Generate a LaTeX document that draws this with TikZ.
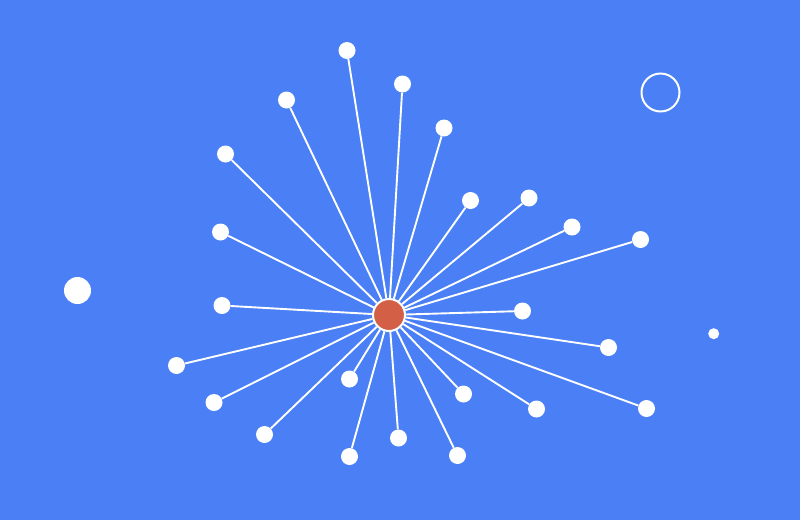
\documentclass[tikz,border=0pt]{standalone}
\usetikzlibrary{backgrounds}
\definecolor{bg}{HTML}{4A7FF6}
\definecolor{hub}{HTML}{D25F46}
\tikzset{
  leaf/.style={circle,fill=white,draw=none,minimum size=17pt,inner sep=0pt},
  hubnode/.style={circle,fill=hub,draw=white,line width=2pt,minimum size=32pt,inner sep=0pt},
  spoke/.style={white,line width=1.9pt},
}
\begin{document}
\begin{tikzpicture}[x=1pt,y=-1pt]
\begin{pgfonlayer}{background}
\fill[bg] (0,0) rectangle (800,520);
\end{pgfonlayer}
\useasboundingbox (0,0) rectangle (800,520);
\node[hubnode] (c) at (389,315) {};
\foreach \n/\x/\y in {l1/347/50.5, l2/402.5/84, l3/286.5/100, l4/444/128, l5/225.5/154, l6/470.5/200.5, l7/529/198, l8/572/227, l9/220.5/232, l10/640.5/239.5, l11/222/305.5, l12/522.5/311, l13/608.5/347.5, l14/176.5/365.5, l15/349.5/379, l16/463.5/394, l17/214/402.5, l18/536.5/409, l19/646.5/408.5, l20/264.5/434.5, l21/398.5/438, l22/349.5/456.5, l23/457.5/455.5}{
  \node[leaf] (\n) at (\x,\y) {};
  \begin{pgfonlayer}{background}
  \draw[spoke] (c) -- (\n);
  \end{pgfonlayer}
}
\node[circle,fill=white,minimum size=27pt,inner sep=0pt] (big) at (77.5,290.5) {};
\node[circle,fill=white,minimum size=11pt,inner sep=0pt] (small) at (713.7,333.7) {};
\node[circle,draw=white,line width=2pt,minimum size=38pt,inner sep=0pt] (ring) at (660.5,92.5) {};
\end{tikzpicture}
\end{document}
